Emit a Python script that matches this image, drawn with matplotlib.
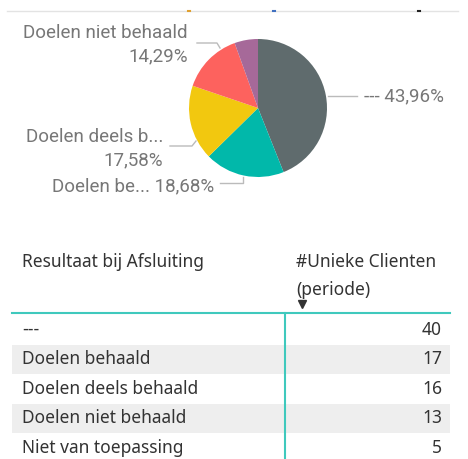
import matplotlib
matplotlib.use("Agg")
import matplotlib.pyplot as plt
from matplotlib.patches import Rectangle

# ---- data ----
categories = ["---", "Doelen behaald", "Doelen deels behaald", "Doelen niet behaald", "Niet van toepassing"]
clients = [40, 17, 16, 13, 5]
pie_short_labels = ["---", "Doelen be...", "Doelen deels b...", "Doelen niet behaald", ""]
col_headers = ["Resultaat bij Afsluiting", "#Unieke Clienten\n(periode)"]
colors = ["#5F6B6D", "#01B8AA", "#F2C80F", "#FD625E", "#A66999"]

W, H = 468, 459
fig = plt.figure(figsize=(W / 100, H / 100), dpi=100)
ax = fig.add_axes([0, 0, 1, 1])
ax.set_xlim(0, W)
ax.set_ylim(0, H)
ax.set_aspect("equal")
ax.axis("off")

def Y(y):
    return H - y

# top separator and cut-off title marks
ax.plot([7, 458], [Y(10.5), Y(10.5)], color="#e3e3e3", lw=1)
for mx, mc in ((189, "#e0a030"), (274, "#4070c0"), (419, "#222222")):
    ax.plot([mx - 1, mx + 1], [Y(10.5), Y(10.5)], color=mc, lw=1.5)

# ---- pie ----
cx, cy, r = 258, 108, 69
ax.pie(clients, colors=colors, startangle=90, counterclock=False,
       center=(cx, Y(cy)), radius=r, wedgeprops=dict(linewidth=0))
ax.set_xlim(0, W)
ax.set_ylim(0, H)

total = sum(clients)
pcts = [f"{v / total * 100:.2f}".replace(".", ",") + "%" for v in clients]

lab_font = dict(family="Roboto", size=13.5, color="#777777")
line_kw = dict(color="#bbbbbb", lw=1)

# leader lines (layout)
ax.plot([328, 357], [Y(96), Y(96)], **line_kw)
ax.plot([243, 243, 220], [Y(177), Y(183), Y(183)], **line_kw)
ax.plot([196, 192, 170], [Y(141), Y(146), Y(146)], **line_kw)
ax.plot([220, 217, 197], [Y(48), Y(43), Y(43)], **line_kw)

ax.text(364, Y(96), f"{pie_short_labels[0]} {pcts[0]}", ha="left", va="center", **lab_font)
ax.text(214, Y(186), f"{pie_short_labels[1]} {pcts[1]}", ha="right", va="center", **lab_font)
ax.text(163, Y(137), pie_short_labels[2], ha="right", va="center", **lab_font)
ax.text(163, Y(160), pcts[2], ha="right", va="center", **lab_font)
ax.text(188, Y(33), pie_short_labels[3], ha="right", va="center", **lab_font)
ax.text(188, Y(56), pcts[3], ha="right", va="center", **lab_font)

# ---- table ----
tab_font = dict(family="Noto Sans", size=12.5, color="#333333")
ax.text(22, Y(262), col_headers[0], ha="left", va="center", **tab_font)
h1, h2 = col_headers[1].split("\n")
ax.text(296, Y(262), h1, ha="left", va="center", **tab_font)
ax.text(296, Y(290), h2, ha="left", va="center", **tab_font)
ax.plot([302], [Y(304)], marker="v", color="#333333", markersize=6)

row_top, row_h = 315, 29.5
for i, (cat, val) in enumerate(zip(categories, clients)):
    top = row_top + i * row_h
    if i % 2 == 1:
        ax.add_patch(Rectangle((12, Y(top + row_h)), 438, row_h, color="#eeeeee", lw=0, zorder=0))
    yc = top + row_h / 2
    ax.text(22, Y(yc), cat, ha="left", va="center", **tab_font)
    ax.text(442, Y(yc), str(val), ha="right", va="center", **tab_font)

ax.plot([12, 450], [Y(312.5), Y(312.5)], color="#3FC9BD", lw=1.5)
ax.plot([285, 285], [Y(312.5), Y(459)], color="#3FC9BD", lw=1.5)

fig.savefig("out.png", dpi=100)
